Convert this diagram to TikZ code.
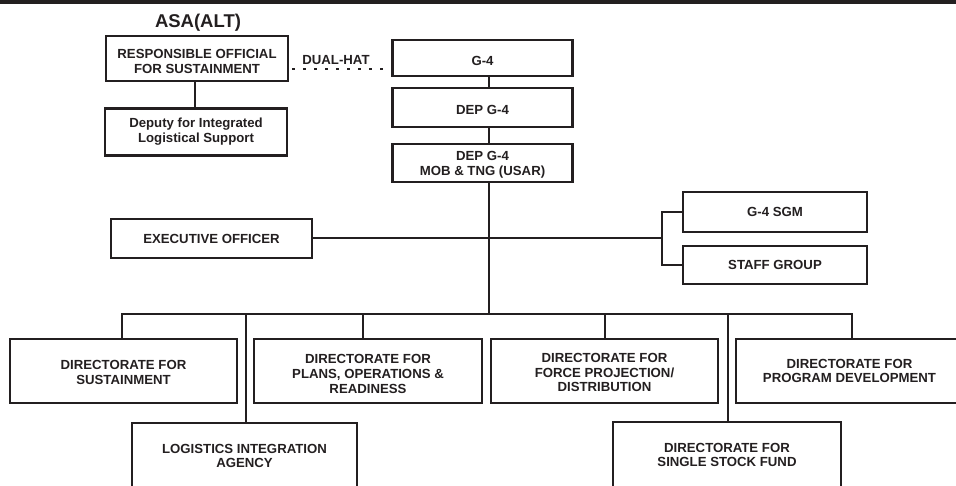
\documentclass[tikz,border=0pt]{standalone}
\usepackage{fontspec}
\setmainfont{Liberation Sans}
\definecolor{inkc}{RGB}{35,31,32}
\begin{document}
\begin{tikzpicture}[x=1pt,y=-1pt,
  box/.style={draw=inkc, line width=2.9pt, fill=white, inner sep=0pt},
  boxtext/.style={text=inkc, inner sep=0pt, align=center,
    font=\fontsize{13.2}{14.7}\selectfont\bfseries},
  link/.style={draw=inkc, line width=2.3pt},
  dotline/.style={draw=inkc, line width=2.3pt, dash pattern=on 2.3pt off 8.7pt},
  lbl/.style={text=inkc, inner sep=0pt, font=\fontsize{13.2}{14.7}\selectfont\bfseries}]
\useasboundingbox (0,0) rectangle (956,485);
\clip (0,0) rectangle (956,485);

% heading rule
\fill[inkc] (0,0) rectangle (956,4.4);

% ASA(ALT) side
\node[text=inkc, inner sep=0pt, font=\fontsize{18.5}{20}\selectfont\bfseries] (asa) at (198,23) {ASA(ALT)};
\node[box, minimum width=182pt, minimum height=45pt,
  label={[boxtext, name=ro-t, yshift=-3pt]center:{RESPONSIBLE OFFICIAL\\FOR SUSTAINMENT}}] (ro) at (197,58.5) {};
\node[box, minimum width=182pt, minimum height=47pt,
  label={[boxtext, name=dils-t]center:{Deputy for Integrated\\Logistical Support}}] (dils) at (196,131.7) {};

% G-4 chain
\node[box, minimum width=180pt, minimum height=36pt,
  label={[boxtext, name=g4-t, yshift=-3pt]center:{G-4}}] (g4) at (482.5,58) {};
\node[box, minimum width=180pt, minimum height=39pt,
  label={[boxtext, name=dep-t, yshift=-2pt]center:{DEP G-4}}] (dep) at (482.5,107.5) {};
\node[box, minimum width=180pt, minimum height=38pt,
  label={[boxtext, name=mob-t, yshift=-1.5pt]center:{DEP G-4\\MOB \& TNG (USAR)}}] (mob) at (482.5,163) {};

% staff offices
\node[box, minimum width=201pt, minimum height=39pt,
  label={[boxtext, name=xo-t]center:{EXECUTIVE OFFICER}}] (xo) at (211.5,238.5) {};
\node[box, minimum width=184pt, minimum height=40pt,
  label={[boxtext, name=sgm-t]center:{G-4 SGM}}] (sgm) at (775,212) {};
\node[box, minimum width=184pt, minimum height=38pt,
  label={[boxtext, name=staff-t]center:{STAFF GROUP}}] (staff) at (775,265) {};

% directorates
\node[box, minimum width=227pt, minimum height=64pt,
  label={[boxtext, name=sust-t, yshift=-1.5pt]center:{DIRECTORATE FOR\\SUSTAINMENT}}] (sust) at (123.5,371) {};
\node[box, minimum width=228pt, minimum height=64pt,
  label={[boxtext, name=plans-t, yshift=-3pt]center:{DIRECTORATE FOR\\PLANS, OPERATIONS \&\\READINESS}}] (plans) at (368,371) {};
\node[box, minimum width=227pt, minimum height=64pt,
  label={[boxtext, name=force-t, yshift=-1.5pt]center:{DIRECTORATE FOR\\FORCE PROJECTION/\\DISTRIBUTION}}] (force) at (604.5,371) {};
\node[box, minimum width=227pt, minimum height=64pt,
  label={[boxtext, name=prog-t]center:{DIRECTORATE FOR\\PROGRAM DEVELOPMENT}}] (prog) at (849.5,371) {};
\node[box, minimum width=225pt, minimum height=66pt,
  label={[boxtext, name=lia-t]center:{LOGISTICS INTEGRATION\\AGENCY}}] (lia) at (244.5,456) {};
\node[box, minimum width=228pt, minimum height=66pt,
  label={[boxtext, name=ssf-t]center:{DIRECTORATE FOR\\SINGLE STOCK FUND}}] (ssf) at (727,455) {};

% dual-hat relation
\coordinate (dh) at (0,69);
\draw[dotline] ([xshift=3pt]ro.east |- dh) -- (g4.west |- dh);
\node[lbl] (dual) at (336,60) {DUAL-HAT};

% reporting lines
\draw[link] (ro.south -| 195,0) -- (dils.north -| 195,0);
\coordinate (tr) at (489,314);
\draw[link] (g4.south -| tr) -- (dep.north -| tr);
\draw[link] (dep.south -| tr) -- (mob.north -| tr);
\draw[link] (mob.south -| tr) -- (tr);

\coordinate (brk) at (662,238);
\draw[link] (xo.east |- brk) -- (brk);
\draw[link, line join=miter] (sgm.west) -| (brk) |- (staff.west);

\coordinate (busL) at (122,314);
\coordinate (busR) at (852,314);
\coordinate (bP) at (363,314);
\coordinate (bF) at (605,314);
\coordinate (bL) at (246,314);
\coordinate (bS) at (728,314);
\draw[link, line join=miter] (sust.north -| busL) -- (busL) -- (busR) -- (prog.north -| busR);
\draw[link] (bP) -- (plans.north -| bP);
\draw[link] (bF) -- (force.north -| bF);
\draw[link] (bL) -- (lia.north -| bL);
\draw[link] (bS) -- (ssf.north -| bS);
\end{tikzpicture}
\end{document}
